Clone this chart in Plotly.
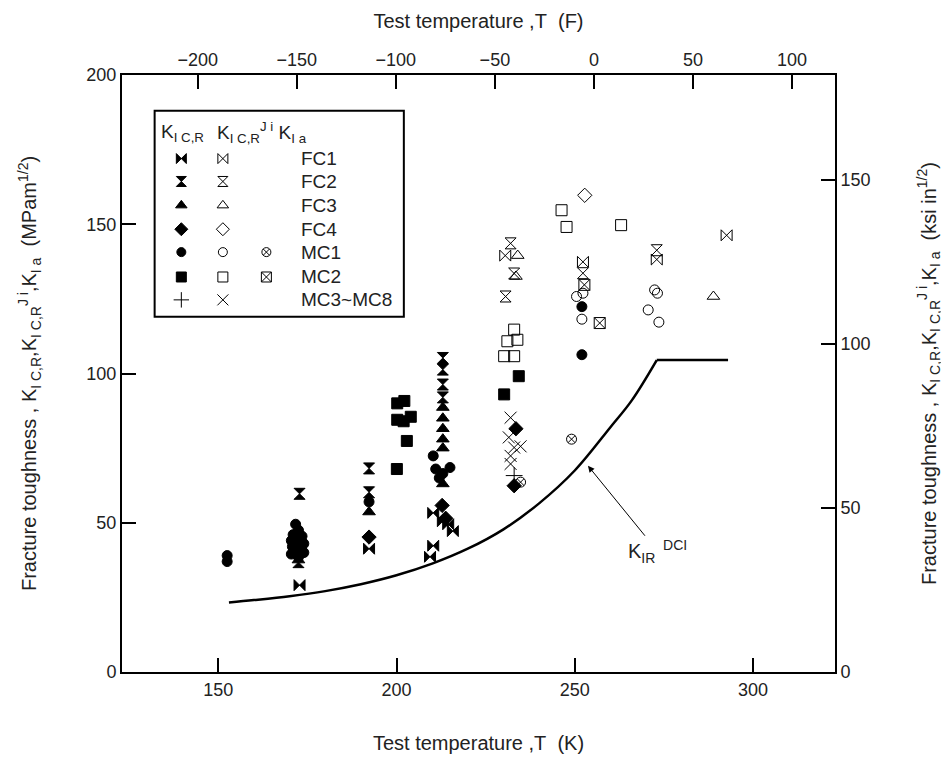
import plotly.graph_objects as go

# K_IR^DCI reference curve (K, MPa m^1/2)
kir_T = [153, 160, 170, 180, 190, 200, 210, 220, 230, 240, 250, 260, 266, 273, 293]
kir_K = [23.3, 24.1, 25.4, 27.1, 29.4, 32.4, 36.3, 41.3, 47.8, 56.5, 67.5, 82.0, 91.0, 104.5, 104.5]

# FC1
fc1_T = [172.8, 192.3, 210.3, 213.0, 214.5, 215.8, 210.3, 209.4]
fc1_K = [29.1, 41.3, 53.3, 50.5, 49.5, 47.2, 42.3, 38.6]
fc1j_T = [230.5, 252.3, 273.0, 292.6]
fc1j_K = [139.5, 137.4, 138.2, 146.3]
# FC2
fc2_T = [172.8, 192.3, 192.3, 213.0, 213.0, 213.0, 213.0, 172.5]
fc2_K = [59.7, 68.2, 60.2, 105.2, 101.3, 96.3, 92.0, 36.8]
fc2j_T = [232.0, 230.6, 233.0, 252.3, 273.0]
fc2j_K = [143.6, 125.8, 133.5, 133.6, 141.3]
# FC3
fc3_T = [172.5, 192.3, 213.0, 213.0, 213.0, 213.0, 213.0, 213.0]
fc3_K = [37.5, 53.6, 88.6, 85.0, 81.5, 78.0, 75.0, 63.0]
fc3j_T = [234.0, 233.5, 288.9]
fc3j_K = [139.5, 132.5, 125.8]
# FC4
fc4_T = [192.3, 212.8, 213.8, 233.5, 233.0]
fc4_K = [45.2, 55.8, 51.5, 81.5, 62.4]
fc4j_T = [252.8]
fc4j_K = [159.7]
# MC1
mc1_T = [152.5, 152.5, 171.7, 172.5, 171.0, 173.5, 170.5, 172.2, 174.0, 170.8, 173.0,
         171.5, 174.0, 170.5, 172.5, 192.3, 210.3, 211.0, 213.0, 215.0, 212.0, 252.0, 252.0]
mc1_K = [37.0, 39.0, 49.5, 47.5, 46.0, 45.5, 44.0, 43.5, 43.0, 42.0, 41.5,
         40.5, 40.0, 39.5, 38.5, 57.0, 72.4, 68.0, 66.5, 68.5, 65.0, 122.4, 106.3]
mc1j_T = [252.3, 250.5, 252.0, 273.2, 272.4, 270.6, 273.6]
mc1j_K = [126.9, 125.8, 118.2, 126.9, 128.0, 121.3, 117.2]
mc1a_T = [234.8, 249.1]
mc1a_K = [63.6, 78.0]
# MC2
mc2_T = [200.2, 202.2, 200.2, 202.0, 204.0, 202.9, 200.1, 234.3, 230.2]
mc2_K = [90.0, 90.8, 84.5, 84.0, 85.5, 77.4, 68.0, 99.1, 93.0]
mc2j_T = [246.3, 247.7, 263.0, 233.0, 233.9, 231.1, 230.2, 233.0]
mc2j_K = [154.7, 149.1, 149.7, 114.7, 111.3, 110.8, 105.8, 105.8]
mc2a_T = [252.7, 257.0]
mc2a_K = [129.7, 116.9]
# MC3~MC8
mc3_T = [233.0]
mc3_K = [65.8]
mc3j_T = [232.0, 231.5, 233.0, 234.8, 232.0, 232.0]
mc3j_K = [85.2, 78.6, 75.2, 75.6, 72.4, 69.7]

legend_labels = ["FC1", "FC2", "FC3", "FC4", "MC1", "MC2", "MC3~MC8"]

FONT = "Liberation Sans, Arial, sans-serif"
TXT = "#222222"

sets = [
    (fc1_T, fc1_K, "bowtie", 0, 0), (fc1j_T, fc1j_K, "bowtie-open", 0, 1),
    (fc2_T, fc2_K, "hourglass", 1, 0), (fc2j_T, fc2j_K, "hourglass-open", 1, 1),
    (fc3_T, fc3_K, "triangle-up", 2, 0), (fc3j_T, fc3j_K, "triangle-up-open", 2, 1),
    (fc4_T, fc4_K, "diamond", 3, 0), (fc4j_T, fc4j_K, "diamond-open", 3, 1),
    (mc1_T, mc1_K, "circle", 4, 0), (mc1j_T, mc1j_K, "circle-open", 4, 1),
    (mc1a_T, mc1a_K, "circle-x-open", 4, 2),
    (mc2_T, mc2_K, "square", 5, 0), (mc2j_T, mc2j_K, "square-open", 5, 1),
    (mc2a_T, mc2a_K, "square-x-open", 5, 2),
    (mc3_T, mc3_K, "cross-thin-open", 6, 0), (mc3j_T, mc3j_K, "x-thin-open", 6, 1),
]

def msize(sym):
    if sym.startswith("circle"):
        return 10
    if "thin" in sym:
        return 12
    return 11

fig = go.Figure()

# curved part smoothed, flat upper shelf straight
kink = kir_T.index(273) + 1
fig.add_trace(go.Scatter(x=kir_T[:kink], y=kir_K[:kink], mode="lines", line_shape="spline",
                         line=dict(color="black", width=2.5), hoverinfo="skip"))
fig.add_trace(go.Scatter(x=kir_T[kink - 1:], y=kir_K[kink - 1:], mode="lines",
                         line=dict(color="black", width=2.5), hoverinfo="skip"))

# hidden copy of the curve in F and ksi so the secondary axes get drawn
fig.add_trace(go.Scatter(x=[(t - 273.15) * 9 / 5 + 32 for t in kir_T],
                         y=[k / 1.0988 for k in kir_K], xaxis="x2", yaxis="y2",
                         mode="lines", line=dict(color="rgba(0,0,0,0)"), hoverinfo="skip"))

for T, K, sym, row, col in sets:
    fig.add_trace(go.Scatter(x=T, y=K, mode="markers",
                             marker=dict(symbol=sym, size=msize(sym), color="black",
                                         line=dict(color="black", width=1)),
                             hoverinfo="skip"))

# hand-made legend, laid out in screen pixels on an overlay axis
row_y = [158, 181, 205, 229, 252, 277, 300]
col_x = [182, 224, 268]
for T, K, sym, row, col in sets:
    fig.add_trace(go.Scatter(x=[col_x[col]], y=[row_y[row]], xaxis="x3", yaxis="y3",
                             mode="markers",
                             marker=dict(symbol=sym, size=msize(sym) - 1, color="black",
                                         line=dict(color="black", width=1)),
                             hoverinfo="skip"))

annotations = []
for lab, yy in zip(legend_labels, row_y):
    annotations.append(dict(x=301, y=yy, xref="x3", yref="y3", text=lab, showarrow=False,
                            xanchor="left", font=dict(size=19, color=TXT)))
annotations.append(dict(x=159, y=132, xref="x3", yref="y3", xanchor="left", showarrow=False,
                        text="K<sub>I C,R</sub>", font=dict(size=19, color=TXT)))
annotations.append(dict(x=216, y=132, xref="x3", yref="y3", xanchor="left", showarrow=False,
                        text="K<sub>I C,R</sub><sup>J i</sup> K<sub>I a</sub>",
                        font=dict(size=19, color=TXT)))
annotations.append(dict(x=253.7, y=69.1, xref="x", yref="y", ax=70, ay=86,
                        text="K<sub>IR</sub><sup>\u00a0 DCI</sup>", showarrow=True,
                        arrowhead=2, arrowsize=1.3, arrowwidth=1, arrowcolor="black",
                        font=dict(size=20, color=TXT)))

axis_common = dict(showline=True, linecolor="black", linewidth=2, ticks="inside",
                   ticklen=14, tickwidth=1.5, tickcolor="black", showgrid=False,
                   zeroline=False, tickfont=dict(size=18, color=TXT))

ytitle = ("Fracture toughness , K<sub>I C,R</sub>,K<sub>I C,R</sub><sup>J i</sup>,"
          "K<sub>I a</sub>\u00a0 (MPam<sup>1/2</sup>)")
ytitle2 = ("Fracture toughness , K<sub>I C,R</sub>,K<sub>I C,R</sub><sup>J i</sup>,"
           "K<sub>I a</sub>\u00a0 (ksi in<sup>1/2</sup>)")
TFONT = dict(size=20, color=TXT)

# the page adds an 8 px body margin, so the figure is 8 px smaller here
fig.update_layout(
    width=941, height=755,
    margin=dict(l=114, r=106, t=66, b=89),
    paper_bgcolor="white", plot_bgcolor="white",
    showlegend=False,
    font=dict(family=FONT, color=TXT),
    xaxis=dict(range=[123, 323], tickvals=[150, 200, 250, 300], **axis_common,
               title=dict(text="Test temperature ,T\u00a0 (K)", standoff=37, font=TFONT)),
    yaxis=dict(range=[0, 200], tickvals=[0, 50, 100, 150, 200], **axis_common,
               title=dict(text=ytitle, standoff=44, font=TFONT)),
    xaxis2=dict(range=[(123 - 273.15) * 9 / 5 + 32, (323 - 273.15) * 9 / 5 + 32],
                tickvals=[-200, -150, -100, -50, 0, 50, 100], overlaying="x", side="top",
                anchor="y", **axis_common,
                title=dict(text="Test temperature ,T\u00a0 (F)", standoff=16, font=TFONT)),
    yaxis2=dict(range=[0, 200 / 1.0988], tickvals=[0, 50, 100, 150], overlaying="y",
                side="right", anchor="x", **axis_common,
                title=dict(text=ytitle2, standoff=52, font=TFONT)),
    xaxis3=dict(range=[122, 843], overlaying="x", visible=False, anchor="y3"),
    yaxis3=dict(range=[674, 74], overlaying="y", visible=False, anchor="x3"),
    shapes=[dict(type="rect", xref="x3", yref="y3", x0=155, x1=407, y0=110, y1=317,
                 line=dict(color="black", width=2))],
    annotations=annotations,
)

fig.write_html("out.html")
